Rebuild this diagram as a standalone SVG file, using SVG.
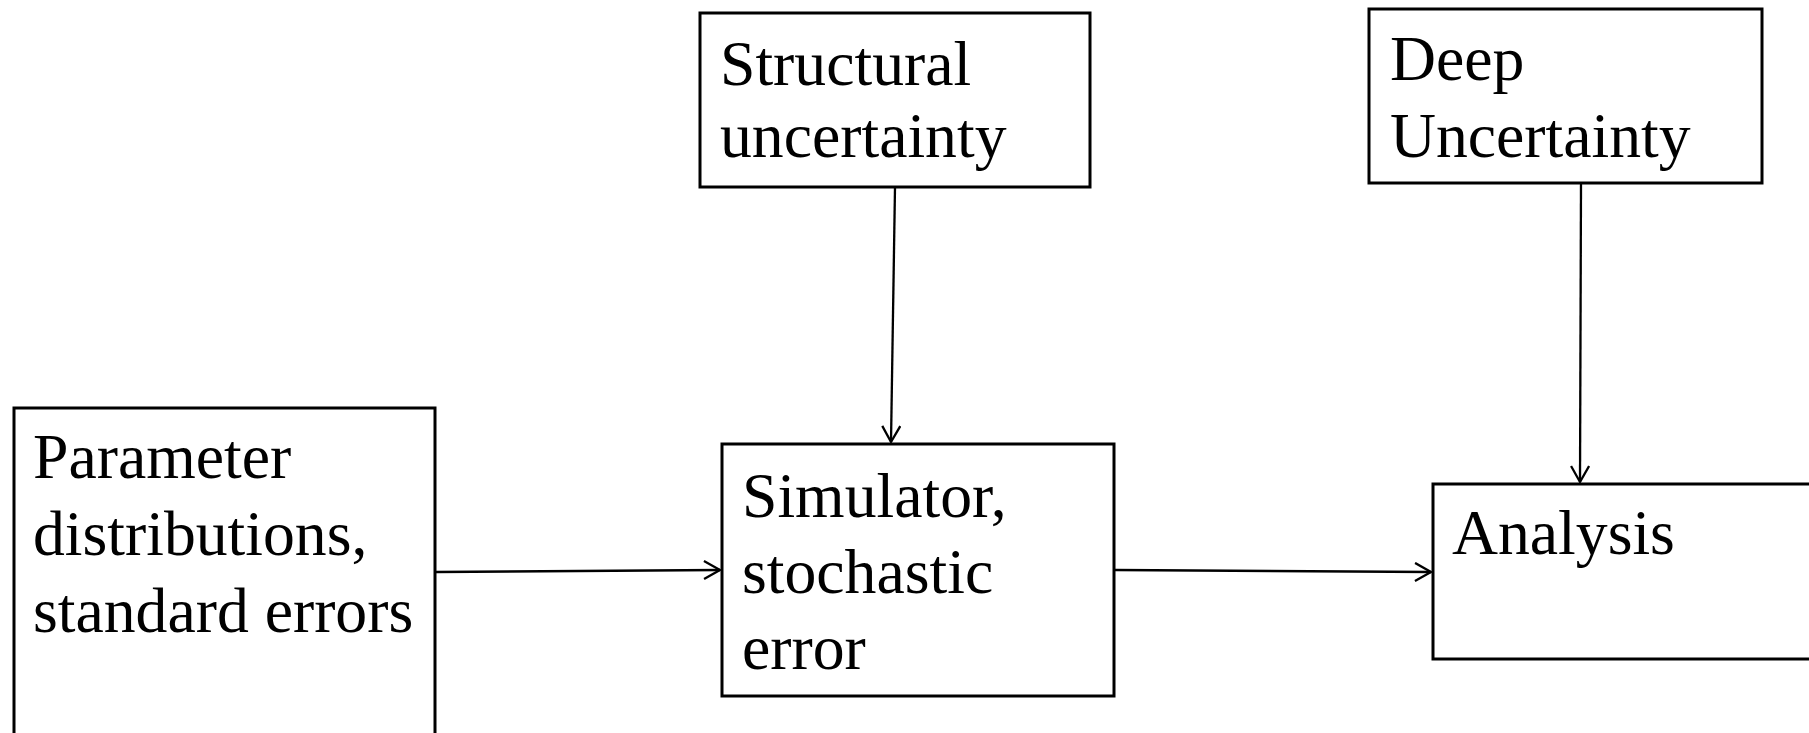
<svg xmlns="http://www.w3.org/2000/svg" width="1809" height="733" viewBox="0 0 1809 733">
  <style>
    .box { fill: #fff; stroke: #000; stroke-width: 3; }
    .label { font-family: "Liberation Serif", "Times New Roman", serif; font-size: 63.7px; fill: #000; }
    .edge { fill: none; stroke: #000; stroke-width: 2.3; }
  </style>
  <defs>
    <marker id="arrow" markerWidth="20" markerHeight="22" refX="17" refY="10" orient="auto" markerUnits="userSpaceOnUse">
      <path d="M1,1 L17,10 L1,19" fill="none" stroke="#000" stroke-width="2.3"/>
    </marker>
  </defs>
  <rect width="1809" height="733" fill="#fff"/>

  <g id="connectors">
    <line class="edge" x1="436" y1="572" x2="720" y2="570" marker-end="url(#arrow)"/>
    <line class="edge" x1="895" y1="187" x2="891" y2="442" marker-end="url(#arrow)"/>
    <line class="edge" x1="1115" y1="570" x2="1431" y2="572" marker-end="url(#arrow)"/>
    <line class="edge" x1="1581" y1="184" x2="1580" y2="482" marker-end="url(#arrow)"/>
  </g>

  <g id="parameters">
    <rect class="box" x="14" y="408" width="421" height="340"/>
    <text class="label" x="33" y="478">Parameter</text>
    <text class="label" x="33" y="555">distributions,</text>
    <text class="label" x="33" y="632">standard errors</text>
  </g>

  <g id="structural">
    <rect class="box" x="700" y="13" width="390" height="174"/>
    <text class="label" x="720" y="85">Structural</text>
    <text class="label" x="720" y="157">uncertainty</text>
  </g>

  <g id="deep">
    <rect class="box" x="1369" y="9" width="393" height="174"/>
    <text class="label" x="1390" y="80">Deep</text>
    <text class="label" x="1390" y="157">Uncertainty</text>
  </g>

  <g id="simulator">
    <rect class="box" x="722" y="444" width="392" height="252"/>
    <text class="label" x="742" y="517">Simulator,</text>
    <text class="label" x="742" y="593">stochastic</text>
    <text class="label" x="742" y="669">error</text>
  </g>

  <g id="analysis">
    <rect class="box" x="1433" y="484" width="400" height="175"/>
    <text class="label" x="1452" y="554">Analysis</text>
  </g>
</svg>
